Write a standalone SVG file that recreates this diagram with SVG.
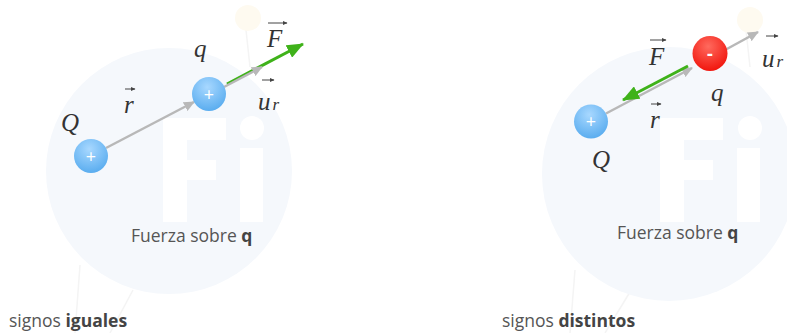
<svg xmlns="http://www.w3.org/2000/svg" width="787" height="333" viewBox="0 0 787 333">
<defs>
<radialGradient id="gBlue" cx="0.45" cy="0.3" r="0.75">
<stop offset="0" stop-color="#a8d8ff"/>
<stop offset="1" stop-color="#55aaee"/>
</radialGradient>
<radialGradient id="gRed" cx="0.45" cy="0.3" r="0.75">
<stop offset="0" stop-color="#ff6a5e"/>
<stop offset="1" stop-color="#f01008"/>
</radialGradient>
<marker id="mGray" markerUnits="userSpaceOnUse" markerWidth="12" markerHeight="10" refX="10" refY="5" orient="auto">
<path d="M0,0 L11,5 L0,10 z" fill="#b8b8b8"/>
</marker>
<marker id="mGreen" markerUnits="userSpaceOnUse" markerWidth="18" markerHeight="14" refX="16" refY="7" orient="auto">
<path d="M0,0 L17,7 L0,14 z" fill="#3fb21a"/>
</marker>
<marker id="mVec" markerUnits="userSpaceOnUse" markerWidth="5" markerHeight="4" refX="4" refY="2" orient="auto">
<path d="M0,0 L4.5,2 L0,4 z" fill="#444"/>
</marker>
</defs>
<style>
.wm{fill:#f5f8fc}
.wl{fill:#ffffff}
.fl{stroke:#f4f4f4;stroke-width:1.5;fill:none}
.sun{fill:#fefaf0}
.gray{stroke:#b8b8b8;stroke-width:2.5;fill:none}
.green{stroke:#3fb21a;stroke-width:3;fill:none}
.vec{stroke:#444;stroke-width:1;fill:none}
.m{font-family:"Liberation Serif","Times New Roman",serif;font-style:italic;font-size:25px;fill:#333}
.sub{font-size:17px}
.sign{font-family:"Open Sans","Liberation Sans",sans-serif;font-size:18px;fill:#fff;text-anchor:middle}
.cap{font-family:"Open Sans","Liberation Sans",sans-serif;font-size:17.5px;fill:#555}
.b{font-weight:bold;fill:#444}
</style>

<g id="watermark-left">
<path class="fl" d="M80,265 L75,333 M133,290 L110,333 M250,67 L246,30"/>
<circle class="sun" cx="248" cy="18" r="13"/>
<circle class="wm" cx="169" cy="171" r="123"/>
<path class="wl" d="M163,118 H226 V140 H187 V160 H216 V180 H187 V222 H163 z"/>
<rect class="wl" x="240" y="148" width="23" height="74"/>
<circle class="wl" cx="252" cy="128" r="12"/>
</g>

<g id="watermark-right">
<path class="fl" d="M575,270 L570,333 M630,292 L605,333 M750,67 L746,30"/>
<circle class="sun" cx="750" cy="20" r="13"/>
<circle class="wm" cx="669" cy="174" r="127"/>
<path class="wl" d="M660,118 H723 V140 H684 V160 H713 V180 H684 V222 H660 z"/>
<rect class="wl" x="737" y="148" width="23" height="74"/>
<circle class="wl" cx="750" cy="128" r="12"/>
</g>

<g id="connectors">
<line class="gray" x1="106" y1="148" x2="194" y2="102" marker-end="url(#mGray)"/>
<line class="green" x1="227" y1="84" x2="303" y2="44" marker-end="url(#mGreen)"/>
<line class="gray" x1="224" y1="87" x2="262" y2="67" marker-end="url(#mGray)"/>
<line class="gray" x1="606" y1="113.5" x2="692" y2="68" marker-end="url(#mGray)"/>
<line class="gray" x1="725" y1="50" x2="758" y2="32" marker-end="url(#mGray)"/>
<line class="green" x1="688" y1="66" x2="623" y2="100" marker-end="url(#mGreen)"/>
</g>

<g id="Q-left">
<circle cx="91" cy="156" r="17" fill="url(#gBlue)"/>
<text class="sign" x="91" y="162.5">+</text>
</g>
<g id="q-left">
<circle cx="209" cy="94" r="17" fill="url(#gBlue)"/>
<text class="sign" x="209" y="100.5">+</text>
</g>
<g id="Q-right">
<circle cx="591" cy="121.5" r="17" fill="url(#gBlue)"/>
<text class="sign" x="591" y="128">+</text>
</g>
<g id="q-right">
<circle cx="710" cy="53.5" r="17.5" fill="url(#gRed)"/>
<text class="sign" x="710" y="59.5" font-weight="bold">-</text>
</g>

<g id="labels-left">
<text class="m" x="61" y="131">Q</text>
<text class="m" x="124" y="113">r</text>
<line class="vec" x1="125" y1="89" x2="135" y2="89" marker-end="url(#mVec)"/>
<text class="m" x="194" y="57">q</text>
<text class="m" x="267" y="47">F</text>
<line class="vec" x1="268" y1="23" x2="287" y2="23" marker-end="url(#mVec)"/>
<text class="m" x="258" y="110">u<tspan class="sub" dx="2">r</tspan></text>
<line class="vec" x1="262" y1="80" x2="274" y2="80" marker-end="url(#mVec)"/>
</g>

<g id="labels-right">
<text class="m" x="649" y="65">F</text>
<line class="vec" x1="650" y1="40" x2="666" y2="40" marker-end="url(#mVec)"/>
<text class="m" x="711" y="101">q</text>
<text class="m" x="650" y="128">r</text>
<line class="vec" x1="651" y1="104" x2="661" y2="104" marker-end="url(#mVec)"/>
<text class="m" x="592" y="168">Q</text>
<text class="m" x="762" y="67">u<tspan class="sub" dx="2">r</tspan></text>
<line class="vec" x1="766" y1="36" x2="778" y2="36" marker-end="url(#mVec)"/>
</g>

<g id="captions">
<text class="cap" x="131" y="242">Fuerza sobre <tspan class="b">q</tspan></text>
<text class="cap" x="617" y="239">Fuerza sobre <tspan class="b">q</tspan></text>
<text class="cap" x="9" y="327">signos <tspan class="b">iguales</tspan></text>
<text class="cap" x="502" y="327">signos <tspan class="b">distintos</tspan></text>
</g>
</svg>
